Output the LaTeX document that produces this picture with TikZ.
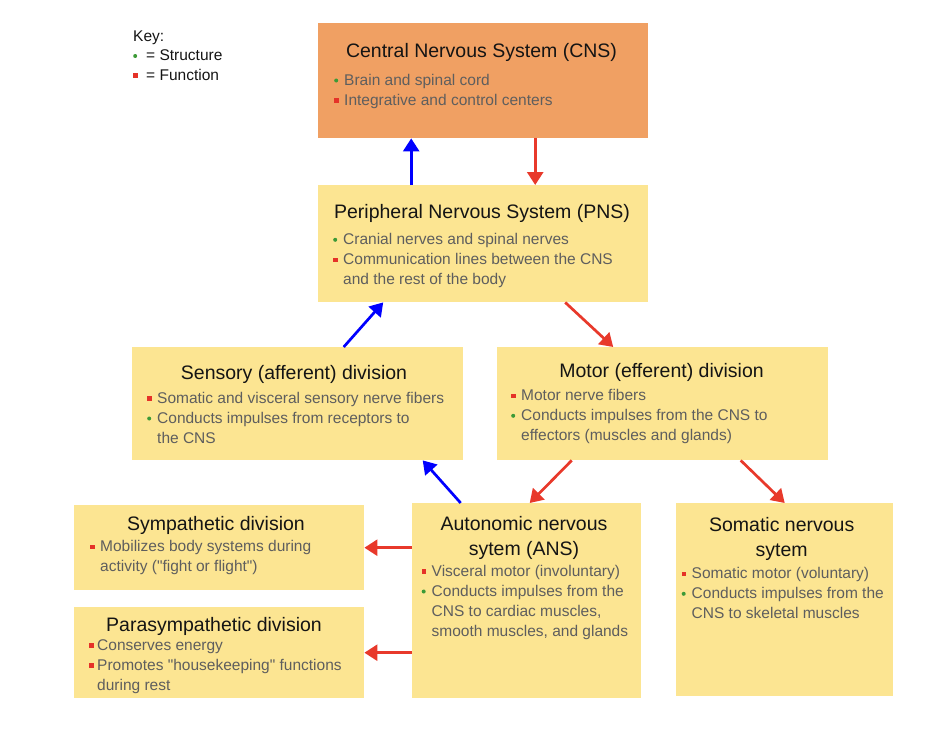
\documentclass[tikz,border=0pt]{standalone}
\usepackage{fontspec}
\setmainfont{Liberation Sans}[Ligatures=TeXOff]
\usetikzlibrary{arrows.meta, positioning}

\definecolor{cnsorange}{HTML}{F0A063}
\definecolor{boxyellow}{HTML}{FCE592}
\definecolor{keygreen}{HTML}{3C9A37}
\definecolor{keyred}{HTML}{E53228}
\definecolor{arrowred}{HTML}{E8392B}
\definecolor{bodygray}{HTML}{5E5E5E}
\definecolor{titleblack}{HTML}{141414}

\newcommand{\sdot}[1][10pt]{\makebox[#1][l]{\tikz[baseline=-4.5pt]\fill[keygreen] (0pt,0pt) circle (2pt);}}
\newcommand{\fsq}[1][10pt]{\makebox[#1][l]{\tikz[baseline=-4.5pt]\fill[keyred] (0pt,-2.25pt) rectangle (4.5pt,2.25pt);}}
\newcommand{\contline}{\hspace*{10pt}}

\begin{document}
\begin{tikzpicture}[x=1pt, y=-1pt,
    boxnode/.style={anchor=north west, inner sep=0pt, fill=boxyellow},
    titletext/.style={anchor=base, align=center, inner sep=0pt, text=titleblack,
        font=\fontsize{19.5}{25}\selectfont},
    bodytext/.style={anchor=base west, align=left, inner sep=0pt, text=bodygray,
        font=\fontsize{15.5}{20}\selectfont},
    bluelink/.style={blue, line width=2.7pt, -{Triangle[length=13pt,width=16pt]}},
    redlink/.style={arrowred, line width=2.7pt, -{Triangle[length=13pt,width=16pt]}}]
    \useasboundingbox (0,0) rectangle (934,728);

    % boxes
    \path (318,23) node [boxnode, fill=cnsorange, minimum width=330pt, minimum height=115pt] (cns) {}
        (318,185) node [boxnode, minimum width=330pt, minimum height=117pt] (pns) {}
        (132,347) node [boxnode, minimum width=331pt, minimum height=113pt] (sensory) {}
        (497,347) node [boxnode, minimum width=331pt, minimum height=113pt] (motor) {}
        (74,505) node [boxnode, minimum width=290pt, minimum height=85pt] (symp) {}
        (74,607) node [boxnode, minimum width=290pt, minimum height=91pt] (parasymp) {}
        (412,503) node [boxnode, minimum width=229pt, minimum height=195pt] (ans) {}
        (676,503) node [boxnode, minimum width=217pt, minimum height=193pt] (somatic) {};

    % key (base = last line)
    \node [bodytext, text=titleblack, font=\fontsize{15.5}{19.5}\selectfont] (key) at (133,80)
        {Key:\\\sdot[13pt]= Structure\\\fsq[13pt]= Function};

    % titles
    \path (481.5,57.7) node [titletext] (cnstitle) {Central Nervous System (CNS)}
        (482,218.3) node [titletext] (pnstitle) {Peripheral Nervous System (PNS)}
        (294,379.7) node [titletext] (sensorytitle) {Sensory (afferent) division}
        (661.5,377.7) node [titletext] (motortitle) {Motor (efferent) division}
        (216,530) node [titletext] (symptitle) {Sympathetic division}
        (214,631) node [titletext] (parasymptitle) {Parasympathetic division}
        (524,555.5) node [titletext] (anstitle) {Autonomic nervous\\sytem (ANS)}
        (781.7,556.7) node [titletext] (somatictitle) {Somatic nervous\\sytem};

    % bullet lists
    \path (334,105) node [bodytext] (cnstext)
            {\sdot Brain and spinal cord\\\fsq Integrative and control centers}
        (333,284.3) node [bodytext] (pnstext)
            {\sdot Cranial nerves and spinal nerves\\\fsq Communication lines between the CNS\\\contline and the rest of the body}
        (147,443) node [bodytext] (sensorytext)
            {\fsq Somatic and visceral sensory nerve fibers\\\sdot Conducts impulses from receptors to\\\contline the CNS}
        (511,440.3) node [bodytext] (motortext)
            {\fsq Motor nerve fibers\\\sdot Conducts impulses from the CNS to\\\contline effectors (muscles and glands)}
        (90,571.7) node [bodytext] (symptext)
            {\fsq Mobilizes body systems during\\\contline activity ("fight or flight")}
        (89,690) node [bodytext] (parasymptext)
            {\fsq[8pt]Conserves energy\\\fsq[8pt]Promotes "housekeeping" functions\\\hspace*{8pt}during rest}
        (421.5,636) node [bodytext] (anstext)
            {\fsq Visceral motor (involuntary)\\\sdot Conducts impulses from the\\\contline CNS to cardiac muscles,\\\contline smooth muscles, and glands}
        (681.5,618.3) node [bodytext] (somatictext)
            {\fsq Somatic motor (voluntary)\\\sdot Conducts impulses from the\\\contline CNS to skeletal muscles};

    % connectors
    \draw [bluelink] ([xshift=-72pt]pns.north) -- ([xshift=-72pt]cns.south);
    \draw [redlink] ([xshift=52pt]cns.south) -- ([xshift=52pt]pns.north);
    \draw [bluelink] ([xshift=46pt]sensory.north) -- ([xshift=-100pt]pns.south);
    \draw [redlink] ([xshift=82pt]pns.south) -- ([xshift=-49.5pt]motor.north);
    \draw [bluelink] ([xshift=-66pt]ans.north) -- ([xshift=125pt]sensory.south);
    \draw [redlink] ([xshift=-91pt]motor.south) -- ([xshift=3pt]ans.north);
    \draw [redlink] ([xshift=78pt]motor.south) -- (somatic.north);
    \draw [redlink] (ans.west |- symp.east) -- (symp.east);
    \draw [redlink] (ans.west |- parasymp.east) -- (parasymp.east);
\end{tikzpicture}
\end{document}
